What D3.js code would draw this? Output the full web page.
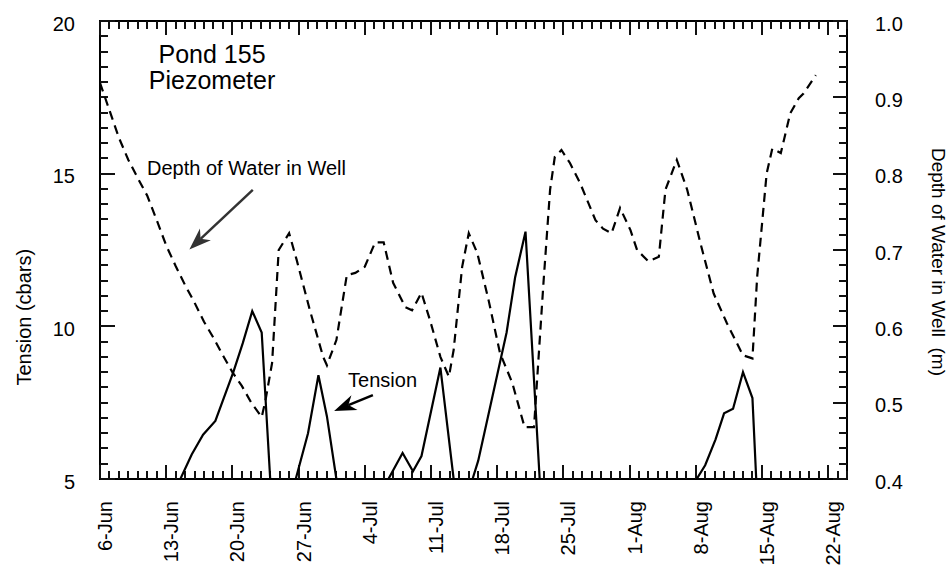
<script src="https://d3js.org/d3.v7.min.js"></script>

<style>
  body { margin: 0; background: #fff; }
  text { font-family: "Liberation Sans", Arial, sans-serif; fill: #000; }
</style>

<body>
  <svg id='svg'></svg>
</body>

<script>
  // days counted from 6-Jun
  let xTickLabels = ['6-Jun','13-Jun','20-Jun','27-Jun','4-Jul','11-Jul','18-Jul','25-Jul','1-Aug','8-Aug','15-Aug','22-Aug'];

  // tension (cbars), null = gap (below axis)
  let tensionDays = [8.5,9.7,10.9,12.2,14.1,15.1,16.1,17.1,18.0, 19,
    20.7,22.0,23.1,24.0,25.0, 27,
    30.5,32.0,33.1,34.0,36.0,37.4, 38,
    39.4,40.0,41.0,42.0,43.0,43.9,45.0,46.5, 50,
    63.1,64.0,65.1,66.0,66.95,68.0,69.0,69.4];
  let tensionValues = [5.0,5.8,6.45,6.9,8.5,9.45,10.5,9.8,5.0, null,
    5.0,6.5,8.4,7.05,5.0, null,
    5.0,5.85,5.25,5.75,8.65,5.0, null,
    5.0,5.6,7.0,8.4,9.8,11.6,13.1,5.0, null,
    5.0,5.45,6.3,7.15,7.3,8.5,7.65,5.0];

  // depth of water in well (m)
  let depthDays = [0,1,2,3,4,5,6,7,8,9,10,11,12,13,14,15,16,17.1,17.5,18.2,18.9,20.0,20.8,22.2,23.6,24.0,
    25.0,26.1,27.0,28.0,29.1,30.0,31.0,32.3,33.0,34.0,34.9,36.0,36.9,37.4,38.3,39.0,39.9,41.1,42.3,43.6,
    44.9,45.9,46.9,47.6,48.1,48.8,49.7,50.8,52.4,53.2,54.1,55.0,56.1,56.8,58.0,59.1,59.8,61.0,62.1,63.5,
    64.9,66.3,68.0,69.0,69.5,70.5,71.1,72.0,73.0,73.9,74.4,75.7];
  let depthValues = [0.919,0.883,0.847,0.818,0.794,0.771,0.739,0.706,0.679,0.654,0.631,0.606,0.585,0.562,0.540,0.522,0.500,0.481,0.503,0.552,0.700,0.722,0.687,0.621,0.560,0.549,
    0.582,0.667,0.670,0.678,0.710,0.710,0.657,0.625,0.621,0.644,0.608,0.560,0.534,0.569,0.678,0.722,0.696,0.634,0.565,0.526,
    0.468,0.468,0.657,0.779,0.822,0.831,0.814,0.787,0.739,0.728,0.722,0.755,0.726,0.700,0.685,0.691,0.779,0.818,0.779,0.709,
    0.643,0.604,0.562,0.558,0.665,0.800,0.833,0.827,0.879,0.899,0.905,0.929];

  let leftTicks = [5, 10, 15, 20];
  let rightTicks = [0.4, 0.5, 0.6, 0.7, 0.8, 0.9, 1.0];

  let width = 951;
  let height = 565;
  let margin = {top: 21, right: 104, bottom: 86, left: 100};

  let svg = d3.select('#svg')
    .attr('width', width)
    .attr('height', height);

  let x = d3.scaleLinear().domain([0, 79]).range([margin.left, width - margin.right]);
  let yL = d3.scaleLinear().domain([5, 20]).range([height - margin.bottom, margin.top]);
  let yR = d3.scaleLinear().domain([0.4, 1.0]).range([height - margin.bottom, margin.top]);

  let x0 = x.range()[0], x1 = x.range()[1];
  let yb = yL.range()[0], yt = yL.range()[1];

  let dayTicks = d3.range(0, 80, 1);
  let weekTicks = xTickLabels.map((d, i) => i * 7);

  // frame
  svg.append('rect')
    .attr('x', x0).attr('y', yt)
    .attr('width', x1 - x0)
    .attr('height', yb - yt)
    .attr('fill', 'none').attr('stroke', '#000').attr('stroke-width', 2);

  // tick marks, one path per set, snapped to whole pixels
  function tickPath(vals, pos, len) {
    let d = vals.map(v => {
      let p = pos(v, len);
      return `M${p[0]},${p[1]}L${p[2]},${p[3]}`;
    }).join('');
    svg.append('path')
      .attr('d', d)
      .attr('fill', 'none')
      .attr('stroke', '#111')
      .attr('stroke-width', 2);
  }

  let r = Math.round;
  let bottomTick = (d, l) => [r(x(d)), yb, r(x(d)), yb - l];
  let topTick = (d, l) => [r(x(d)), yt, r(x(d)), yt + l];
  let leftTick = (d, l) => [x0, r(yL(d)), x0 + l, r(yL(d))];
  let rightTick = (d, l) => [x1, r(yR(d)), x1 - l, r(yR(d))];

  tickPath(dayTicks, bottomTick, 8);
  tickPath(weekTicks, bottomTick, 14);
  tickPath(dayTicks, topTick, 8);
  tickPath(weekTicks, topTick, 14);
  tickPath(d3.range(5, 20.01, 0.5), leftTick, 8);
  tickPath(leftTicks, leftTick, 15);
  tickPath(d3.range(0.4, 1.001, 0.02), rightTick, 8);
  tickPath(rightTicks, rightTick, 14);

  // tick labels
  svg.append('g').selectAll('text')
    .data(weekTicks)
    .enter()
    .append('text')
    .attr('font-size', 20)
    .attr('text-anchor', 'end')
    .attr('transform', d => `translate(${x(d) + 12},${yb + 22}) rotate(-90)`)
    .text((d, i) => xTickLabels[i]);

  svg.append('g').selectAll('text')
    .data(leftTicks)
    .enter()
    .append('text')
    .attr('font-size', 20)
    .attr('text-anchor', 'end')
    .attr('x', x0 - 25)
    .attr('y', d => yL(d))
    .attr('dy', '0.48em')
    .text(d3.format('d'));

  svg.append('g').selectAll('text')
    .data(rightTicks)
    .enter()
    .append('text')
    .attr('font-size', 20)
    .attr('x', x1 + 28)
    .attr('y', d => yR(d))
    .attr('dy', '0.48em')
    .text(d3.format('.1f'));

  svg.append('clipPath').attr('id', 'plot')
    .append('rect')
    .attr('x', x0).attr('y', yt)
    .attr('width', x1 - x0)
    .attr('height', yb - yt);

  let depthLine = d3.line()
    .x(d => x(d[0]))
    .y(d => yR(d[1]));

  svg.append('path')
    .datum(d3.zip(depthDays, depthValues))
    .attr('clip-path', 'url(#plot)')
    .attr('d', depthLine)
    .attr('fill', 'none')
    .attr('stroke', '#000')
    .attr('stroke-width', 2.2)
    .attr('stroke-dasharray', '9,6');

  let tensionLine = d3.line()
    .defined(d => d[1] != null)
    .x(d => x(d[0]))
    .y(d => yL(d[1]));

  svg.append('path')
    .datum(d3.zip(tensionDays, tensionValues))
    .attr('clip-path', 'url(#plot)')
    .attr('d', tensionLine)
    .attr('fill', 'none')
    .attr('stroke', '#000')
    .attr('stroke-width', 2.2);

  // axis titles
  svg.append('text')
    .attr('transform', `translate(31,${yL(10.3)}) rotate(-90)`)
    .attr('text-anchor', 'middle')
    .attr('font-size', 20)
    .text('Tension (cbars)');

  svg.append('text')
    .attr('transform', `translate(932,262) rotate(90)`)
    .attr('text-anchor', 'middle')
    .attr('font-size', 19)
    .text('Depth of Water in Well\u00a0\u00a0(m)');

  // annotations (placed in data units: day, tension)
  svg.append('text')
    .attr('x', x(11.85)).attr('y', yL(18.63))
    .attr('text-anchor', 'middle').attr('font-size', 25)
    .text('Pond 155');
  svg.append('text')
    .attr('x', x(11.85)).attr('y', yL(17.77))
    .attr('text-anchor', 'middle').attr('font-size', 25)
    .text('Piezometer');

  svg.append('text')
    .attr('x', x(4.97)).attr('y', yL(14.96))
    .attr('font-size', 20)
    .text('Depth of Water in Well');
  svg.append('text')
    .attr('x', x(26.24)).attr('y', yL(8.02))
    .attr('font-size', 20)
    .text('Tension');

  function arrow(from, to, color, lw) {
    let ax = x(from[0]), ay = yL(from[1]);
    let bx2 = x(to[0]), by2 = yL(to[1]);
    let a = Math.atan2(by2 - ay, bx2 - ax);
    let len = 22, half = 8;
    let bx = bx2 - len * Math.cos(a), by = by2 - len * Math.sin(a);
    let nx = -Math.sin(a), ny = Math.cos(a);
    let ix = bx2 - len * 0.7 * Math.cos(a), iy = by2 - len * 0.7 * Math.sin(a);
    svg.append('line')
      .attr('x1', ax).attr('y1', ay).attr('x2', ix).attr('y2', iy)
      .attr('stroke', color).attr('stroke-width', lw);
    svg.append('path')
      .attr('d', `M${bx2},${by2}L${bx + nx * half},${by + ny * half}L${ix},${iy}L${bx - nx * half},${by - ny * half}Z`)
      .attr('fill', color);
  }

  arrow([16.16, 14.47], [9.45, 12.52], '#333', 2.5);
  arrow([28.86, 7.75], [24.76, 7.23], '#000', 2.5);
</script>
